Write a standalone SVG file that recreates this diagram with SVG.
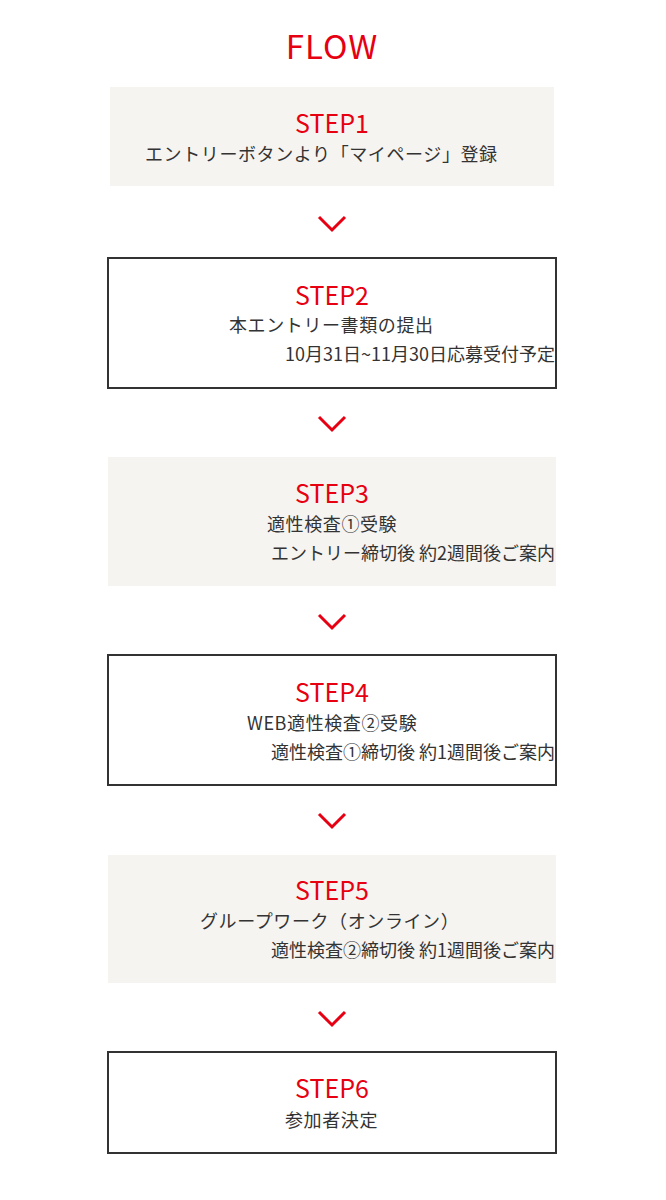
<svg xmlns="http://www.w3.org/2000/svg" width="666" height="1200" viewBox="0 0 666 1200">
<style>
text{font-family:"Noto Sans CJK JP","Noto Sans",sans-serif;}
.title{fill:#e60012;font-size:33px;letter-spacing:1px;text-anchor:middle;}
.step{fill:#e60012;font-size:25px;text-anchor:middle;}
.l1{fill:#333;font-size:18px;letter-spacing:0.6px;}
.l2{fill:#333;font-size:18px;text-anchor:end;}
.fill{fill:#f6f4f1;}
.out{fill:#fff;stroke:#333;stroke-width:2;}
.chev{fill:none;stroke:#e60012;stroke-width:3;}
</style>
<rect width="666" height="1200" fill="#fff"/>
<text class="title" x="332" y="59">FLOW</text>
<g id="step1">
<rect class="fill" x="110" y="87" width="444" height="99"/>
<text class="step" x="332" y="133">STEP1</text>
<text class="l1" x="145" y="161">エントリーボタンより「マイページ」登録</text>
</g>
<g id="step2">
<rect class="out" x="108" y="258" width="448" height="130"/>
<text class="step" x="332" y="305">STEP2</text>
<text class="l1" x="229" y="332">本エントリー書類の提出</text>
<text class="l2" x="555" y="361">10月31日~11月30日応募受付予定</text>
</g>
<g id="step3">
<rect class="fill" x="108" y="457" width="448" height="129"/>
<text class="step" x="332" y="503">STEP3</text>
<text class="l1" x="267" y="531">適性検査①受験</text>
<text class="l2" x="555" y="560">エントリー締切後 約2週間後ご案内</text>
</g>
<g id="step4">
<rect class="out" x="108" y="655" width="448" height="130"/>
<text class="step" x="332" y="702">STEP4</text>
<text class="l1" x="247" y="730">WEB適性検査②受験</text>
<text class="l2" x="555" y="759">適性検査①締切後 約1週間後ご案内</text>
</g>
<g id="step5">
<rect class="fill" x="108" y="855" width="448" height="128"/>
<text class="step" x="332" y="900">STEP5</text>
<text class="l1" x="200" y="928">グループワーク（オンライン）</text>
<text class="l2" x="555" y="957">適性検査②締切後 約1週間後ご案内</text>
</g>
<g id="step6">
<rect class="out" x="108" y="1052" width="448" height="101"/>
<text class="step" x="332" y="1098">STEP6</text>
<text class="l1" x="285" y="1127">参加者決定</text>
</g>
<g id="connectors">
<polyline class="chev" points="319,217 332,230 345,217"/>
<polyline class="chev" points="319,417 332,430 345,417"/>
<polyline class="chev" points="319,615 332,628 345,615"/>
<polyline class="chev" points="319,814 332,827 345,814"/>
<polyline class="chev" points="319,1012 332,1025 345,1012"/>
</g>
</svg>
